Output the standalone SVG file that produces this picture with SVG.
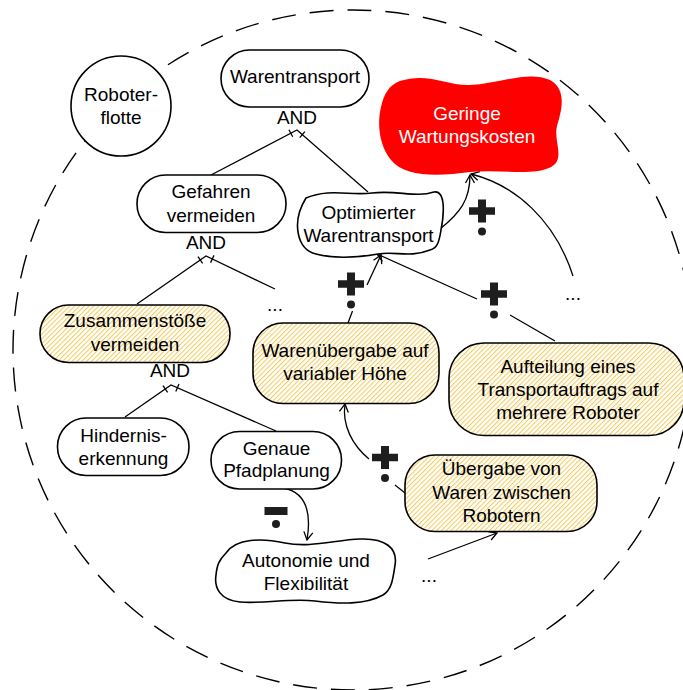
<svg xmlns="http://www.w3.org/2000/svg" width="683" height="690" viewBox="0 0 683 690">
<style>
.n{fill:#fff;stroke:#000;stroke-width:1.6}
.h{fill:url(#hatch);stroke:#000;stroke-width:1.6}
.t{font-family:"Liberation Sans",Arial,sans-serif;font-size:19px;text-anchor:middle;fill:#000}
.w{fill:#fff}
.c{fill:none;stroke:#000;stroke-width:1.3}
.a{marker-end:url(#arr)}
.sym{fill:#1e1e1e}
</style>
<defs>
<pattern id="hatch" patternUnits="userSpaceOnUse" width="3.4" height="3.4" patternTransform="rotate(45)">
<rect width="3.4" height="3.4" fill="#fff"/>
<line x1="0.6" y1="0" x2="0.6" y2="3.4" stroke="#f0bd35" stroke-width="0.85"/>
</pattern>
<marker id="arr" markerWidth="12" markerHeight="12" viewBox="-10 -6 12 12" refX="0" refY="0" orient="auto" markerUnits="userSpaceOnUse">
<path d="M-8,-4.5 L0,0 L-8,4.5" fill="none" stroke="#000" stroke-width="1.3"/>
</marker>
<g id="plus" class="sym">
<rect x="-4" y="-11.5" width="8" height="23"/>
<rect x="-13" y="-3.75" width="26" height="7.5"/>
<circle cx="0" cy="20.5" r="4"/>
</g>
<g id="minus" class="sym">
<rect x="-11.5" y="-4" width="23" height="8"/>
<circle cx="0" cy="13" r="4"/>
</g>
</defs>
<rect width="683" height="690" fill="#fff"/>
<circle id="boundary" cx="353" cy="350" r="340" fill="none" stroke="#000" stroke-width="1.4" stroke-dasharray="24 14"/>

<g id="connectors">
<polyline class="c" points="211,175 297,130 368,192"/>
<line class="c" x1="292.7" y1="136.7" x2="288.9" y2="129.7"/>
<line class="c" x1="299.7" y1="137.6" x2="304.9" y2="131.6"/>
<polyline class="c" points="137,304 206,256 275,289"/>
<line class="c" x1="202.6" y1="263.3" x2="198" y2="256.7"/>
<line class="c" x1="210.6" y1="262.6" x2="214" y2="255.4"/>
<polyline class="c" points="125,417 171,385 276,431"/>
<line class="c" x1="167.6" y1="392.3" x2="163" y2="385.7"/>
<line class="c" x1="175.8" y1="391.5" x2="179" y2="384.1"/>
<path class="c a" d="M 440,229 C 460,213 470,200 470,175"/>
<path class="c a" d="M 573,276 C 555,220 515,185 471,174"/>
<line class="c" x1="348" y1="323" x2="352.5" y2="311"/>
<line class="c a" x1="367" y1="285" x2="381" y2="255"/>
<line class="c" x1="555" y1="341" x2="510" y2="315"/>
<line class="c a" x1="477" y1="299" x2="377" y2="254"/>
<line class="c" x1="405" y1="493" x2="395" y2="485"/>
<path class="c a" d="M 369,459 C 352,445 342,425 345,404"/>
<path class="c a" d="M 283,488 C 305,492 312,510 307,540"/>
<line class="c a" x1="428" y1="559" x2="497" y2="533"/>
<use href="#plus" x="482" y="211"/>
<use href="#plus" x="351" y="284"/>
<use href="#plus" x="494" y="294"/>
<use href="#plus" x="385" y="457.5"/>
<use href="#minus" x="276" y="511"/>
<text class="t" x="275" y="311">...</text>
<text class="t" x="573" y="300">...</text>
<text class="t" x="429" y="582">...</text>
</g>

<g id="roboterflotte">
<circle class="n" cx="121" cy="106" r="50"/>
<text class="t" x="121" y="101">Roboter-</text>
<text class="t" x="121" y="124">flotte</text>
</g>
<g id="warentransport">
<rect class="n" x="221" y="50" width="148" height="57" rx="28.5"/>
<text class="t" x="295" y="83">Warentransport</text>
<text class="t" x="297" y="123.5">AND</text>
</g>
<g id="geringe-wartungskosten">
<path d="M 400,81 C 428,72 447,86 470,85 C 498,84 528,70 550,80 C 568,90 561,112 557,126 C 553,142 567,160 549,168 C 530,176 500,169 470,172 C 440,176 405,178 391,160 C 379,145 377,124 381,107 C 384,94 389,85 400,81 Z" fill="#ff0000"/>
<text class="t w" x="467" y="120">Geringe</text>
<text class="t w" x="467" y="143">Wartungskosten</text>
</g>
<g id="gefahren-vermeiden">
<rect class="n" x="137" y="175" width="149" height="57.5" rx="28.5"/>
<text class="t" x="211" y="198">Gefahren</text>
<text class="t" x="211" y="221.5">vermeiden</text>
<text class="t" x="206" y="249">AND</text>
</g>
<g id="optimierter-warentransport">
<path class="n" d="M 306,198 C 330,188 350,196 372,193 C 398,190 415,198 434,192 C 446,190 444,215 441,230 C 439,243 437,248 430,250 C 410,258 395,251 378,254 C 355,258 335,259 316,254 C 297,250 291,222 306,198 Z"/>
<text class="t" x="368.5" y="219">Optimierter</text>
<text class="t" x="368.5" y="241.5">Warentransport</text>
</g>
<g id="zusammenstoesse-vermeiden">
<rect class="h" x="40" y="305" width="190" height="57.5" rx="28.5"/>
<text class="t" x="135" y="327">Zusammenstöße</text>
<text class="t" x="135" y="350.5">vermeiden</text>
<text class="t" x="170" y="377">AND</text>
</g>
<g id="warenuebergabe">
<rect class="h" x="253" y="323" width="186" height="80.5" rx="30"/>
<text class="t" x="345" y="357">Warenübergabe auf</text>
<text class="t" x="345" y="380">variabler Höhe</text>
</g>
<g id="aufteilung">
<rect class="h" x="449" y="343" width="235" height="92.5" rx="35"/>
<text class="t" x="568" y="372.5">Aufteilung eines</text>
<text class="t" x="568" y="396">Transportauftrags auf</text>
<text class="t" x="568" y="418.5">mehrere Roboter</text>
</g>
<g id="hinderniserkennung">
<rect class="n" x="57.5" y="418" width="131.5" height="57.5" rx="28.5"/>
<text class="t" x="123.5" y="441.5">Hindernis-</text>
<text class="t" x="123.5" y="465">erkennung</text>
</g>
<g id="genaue-pfadplanung">
<rect class="n" x="211" y="431.5" width="130.5" height="57.5" rx="28.5"/>
<text class="t" x="276.5" y="455">Genaue</text>
<text class="t" x="276.5" y="477">Pfadplanung</text>
</g>
<g id="uebergabe-von-waren">
<rect class="h" x="405" y="455" width="192" height="76.5" rx="30"/>
<text class="t" x="501.5" y="475">Übergabe von</text>
<text class="t" x="501.5" y="498.5">Waren zwischen</text>
<text class="t" x="501.5" y="521.5">Robotern</text>
</g>
<g id="autonomie-flexibilitaet">
<path class="n" d="M 226,553 C 236,538 262,538 285,543 C 310,548 335,540 360,539 C 385,538 398,548 395,565 C 393,578 392,590 383,595 C 365,605 340,604 315,601 C 290,598 265,604 240,602 C 220,600 214,588 216,575 C 217,565 219,560 226,553 Z"/>
<text class="t" x="306" y="566.5">Autonomie und</text>
<text class="t" x="306" y="590">Flexibilität</text>
</g>
</svg>
